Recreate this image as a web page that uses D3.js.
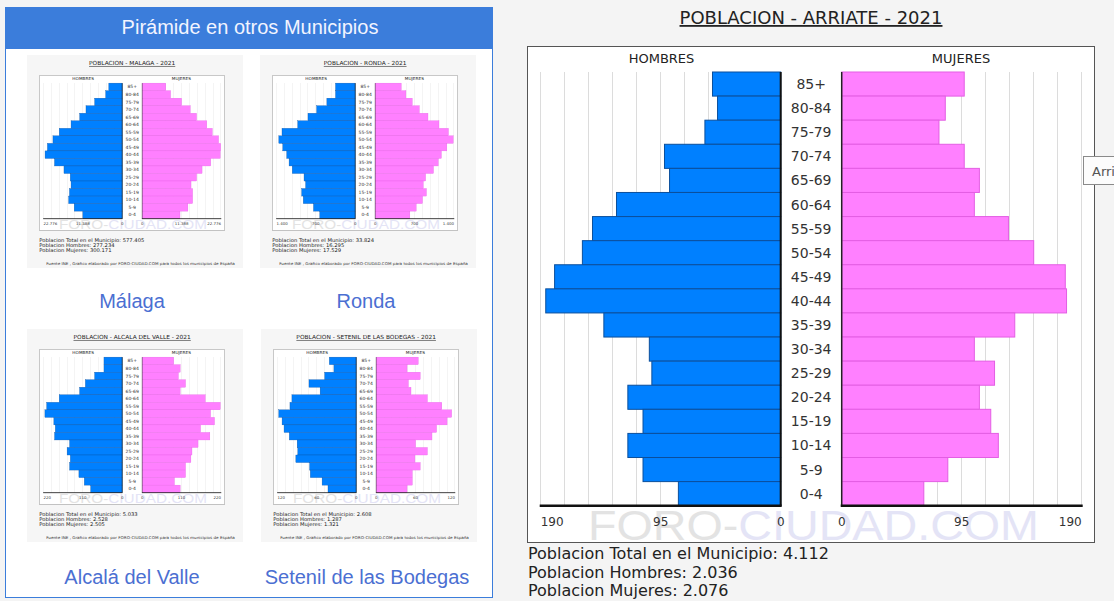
<!DOCTYPE html>
<html>
<head>
<meta charset="utf-8">
<script src="https://cdn.jsdelivr.net/npm/d3@7"></script>
<style>
  body { margin: 0; background: #f4f4f4; }
  svg { display: block; }
</style>
</head>
<body>
<svg id="page" width="1114" height="601"></svg>
<script>
// age groups, top of the pyramid first
const ages = ['85+', '80-84', '75-79', '70-74', '65-69', '60-64', '55-59', '50-54', '45-49',
  '40-44', '35-39', '30-34', '25-29', '20-24', '15-19', '10-14', '5-9', '0-4']

// Arriate 2021
const arriateHombres = [54, 50, 60, 92, 88, 130, 149, 157, 179, 186, 140, 104, 102, 121, 109, 121, 109, 81]
const arriateMujeres = [97, 82, 77, 97, 109, 105, 132, 152, 177, 178, 137, 105, 121, 109, 118, 124, 84, 65]
const arriateTotals = [4112, 2036, 2076]
const arriateMax = 190

// thumbnails
const malagaHombres = [3870, 4780, 7970, 10480, 12300, 14800, 18220, 20040, 21640, 22320, 19590, 16850, 15030, 14800, 15260, 15490, 13890, 11390]
const malagaMujeres = [6830, 8200, 11390, 13890, 15720, 18680, 20270, 22090, 22700, 22550, 19820, 17310, 15720, 14120, 14580, 14580, 13210, 10930]
const malagaTotals = [577405, 277234, 300171]
const malagaMax = 22776

const rondaHombres = [350, 350, 504, 686, 840, 1022, 1302, 1358, 1288, 1218, 1176, 1120, 910, 882, 952, 924, 742, 630]
const rondaMujeres = [462, 546, 658, 784, 938, 1134, 1302, 1386, 1274, 1176, 1120, 1036, 896, 854, 910, 840, 728, 616]
const rondaTotals = [33824, 16295, 17529]
const rondaMax = 1400

const alcalaHombres = [51, 51, 77, 103, 119, 176, 211, 216, 191, 187, 189, 147, 154, 145, 147, 121, 106, 88]
const alcalaMujeres = [88, 106, 101, 121, 106, 176, 218, 191, 202, 163, 189, 156, 139, 136, 121, 121, 90, 106]
const alcalaTotals = [5033, 2528, 2505]
const alcalaMax = 220

const setenilHombres = [41, 34, 48, 72, 55, 98, 101, 118, 113, 110, 102, 90, 89, 92, 71, 70, 52, 43]
const setenilMujeres = [64, 47, 67, 49, 53, 78, 100, 115, 108, 92, 85, 60, 78, 59, 67, 55, 55, 47]
const setenilTotals = [2608, 1287, 1321]
const setenilMax = 120

const es = d3.formatLocale({ decimal: ',', thousands: '.', grouping: [3], currency: ['', ' €'] })
const fmt = es.format(',d')

const svg = d3.select('#page')
const chartFont = "'DejaVu Sans', Verdana, sans-serif"
const panelFont = "'Liberation Sans', Arial, sans-serif"

svg.append('rect').attr('width', 1114).attr('height', 601).attr('fill', '#f4f4f4')

function drawPyramid (g, p) {
  const W = 567
  const H = 496
  const xL = d3.scaleLinear().domain([0, p.max]).range([253.7, 13.7])
  const xR = d3.scaleLinear().domain([0, p.max]).range([314.7, 554.7])
  const y = d3.scaleBand().domain(ages).range([26, 459.7])
  const grid = d3.range(1, 11).map(i => p.max * i / 10)
  const base = y.range()[1]
  const mid = (xL(0) + xR(0)) / 2

  g.append('text')
    .attr('x', 284).attr('y', p.titleY)
    .attr('text-anchor', 'middle')
    .style('font', '18px ' + chartFont)
    .style('text-decoration', 'underline')
    .attr('fill', '#222')
    .text('POBLACION - ' + p.name + ' - 2021')

  g.append('rect')
    .attr('width', W).attr('height', H)
    .attr('fill', '#fff').attr('stroke', '#555')
    .attr('shape-rendering', 'crispEdges')

  g.append('text').attr('x', 134.5).attr('y', 17)
    .attr('text-anchor', 'middle').style('font', '13px ' + chartFont).attr('fill', '#222')
    .text('HOMBRES')
  g.append('text').attr('x', 434).attr('y', 17)
    .attr('text-anchor', 'middle').style('font', '13px ' + chartFont).attr('fill', '#222')
    .text('MUJERES')

  // grid lines
  g.selectAll('.gl').data(grid).enter().append('line')
    .attr('x1', d => xL(d)).attr('x2', d => xL(d))
    .attr('y1', y.range()[0]).attr('y2', base)
    .attr('stroke', '#dcdcdc').attr('shape-rendering', 'crispEdges')
  g.selectAll('.gr').data(grid).enter().append('line')
    .attr('x1', d => xR(d)).attr('x2', d => xR(d))
    .attr('y1', y.range()[0]).attr('y2', base)
    .attr('stroke', '#dcdcdc').attr('shape-rendering', 'crispEdges')

  // bars
  g.selectAll('.bl').data(p.hombres).enter().append('rect')
    .attr('x', d => xL(d))
    .attr('y', (d, i) => y(ages[i]))
    .attr('width', d => xL(0) - xL(d))
    .attr('height', y.bandwidth())
    .attr('fill', '#0080ff').attr('stroke', '#0b4f9c')
  g.selectAll('.br').data(p.mujeres).enter().append('rect')
    .attr('x', xR(0))
    .attr('y', (d, i) => y(ages[i]))
    .attr('width', d => xR(d) - xR(0))
    .attr('height', y.bandwidth())
    .attr('fill', '#ff80ff').attr('stroke', '#e35ee3')

  // centre lines
  g.append('line').attr('x1', xL(0)).attr('x2', xL(0))
    .attr('y1', y.range()[0]).attr('y2', base)
    .attr('stroke', '#111').attr('stroke-width', 2)
  g.append('line').attr('x1', xR(0)).attr('x2', xR(0))
    .attr('y1', y.range()[0]).attr('y2', base)
    .attr('stroke', '#222').attr('stroke-width', 1.5)

  // age labels
  g.selectAll('.age').data(ages).enter().append('text')
    .attr('x', mid)
    .attr('y', d => y(d) + y.bandwidth() / 2 + 5)
    .attr('text-anchor', 'middle')
    .style('font', '14px ' + chartFont)
    .attr('fill', '#333')
    .text(d => d)

  // axis lines
  g.append('line').attr('x1', xL(p.max) - 1).attr('x2', xL(0) + 1)
    .attr('y1', base).attr('y2', base).attr('stroke', '#111').attr('stroke-width', 2.5)
  g.append('line').attr('x1', xR(0) - 1).attr('x2', xR(p.max) + 1)
    .attr('y1', base).attr('y2', base).attr('stroke', '#111').attr('stroke-width', 2.5)

  // watermark
  const wm = g.append('text')
    .attr('x', 61).attr('y', 494)
    .attr('textLength', 451).attr('lengthAdjust', 'spacingAndGlyphs')
    .style('font', '42px ' + panelFont)
  wm.append('tspan').attr('fill', '#e3e3e3').text('FORO-')
  wm.append('tspan').attr('fill', '#e4e4f6').text('CIUDAD.COM')

  // tick labels
  const ticks = [0, p.max / 2, p.max]
  const anchorL = ['middle', 'middle', 'start']
  const anchorR = ['middle', 'middle', 'end']
  g.selectAll('.tl').data(ticks).enter().append('text')
    .attr('x', d => xL(d)).attr('y', 480)
    .attr('text-anchor', (d, i) => anchorL[i])
    .style('font', '12px ' + chartFont).attr('fill', '#333')
    .text(d => fmt(d))
  g.selectAll('.tr').data(ticks).enter().append('text')
    .attr('x', d => xR(d)).attr('y', 480)
    .attr('text-anchor', (d, i) => anchorR[i])
    .style('font', '12px ' + chartFont).attr('fill', '#333')
    .text(d => fmt(d))

  // totals
  const info = ['Poblacion Total en el Municipio: ', 'Poblacion Hombres: ', 'Poblacion Mujeres: ']
  g.selectAll('.info').data(info).enter().append('text')
    .attr('x', 1)
    .attr('y', (d, i) => p.infoY + i * p.infoStep)
    .style('font', '16px ' + chartFont).attr('fill', '#222')
    .text((d, i) => d + fmt(p.totals[i]))

  if (p.source) {
    g.append('text')
      .attr('x', 22).attr('y', p.infoY + 2 * p.infoStep + 40)
      .style('font', '12.5px ' + chartFont).attr('fill', '#333')
      .text('Fuente INE , Grafico elaborado por FORO-CIUDAD.COM para todos los municipios de España')
  }
}

// ---- left panel ----
svg.append('rect').attr('x', 5.5).attr('y', 7.5).attr('width', 487).attr('height', 590)
  .attr('fill', '#fff').attr('stroke', '#3b7ddb')
svg.append('rect').attr('x', 5).attr('y', 7).attr('width', 488).attr('height', 42)
  .attr('fill', '#3b7ddb')
svg.append('text').attr('x', 250).attr('y', 34)
  .attr('text-anchor', 'middle')
  .style('font', '20px ' + panelFont).attr('fill', '#f2f4ff')
  .text('Pirámide en otros Municipios')

const thumbs = [
  { name: 'MALAGA', label: 'Málaga', hombres: malagaHombres, mujeres: malagaMujeres, totals: malagaTotals, max: malagaMax, tx: 39, ty: 75, cx: 132, cy: 308 },
  { name: 'RONDA', label: 'Ronda', hombres: rondaHombres, mujeres: rondaMujeres, totals: rondaTotals, max: rondaMax, tx: 272, ty: 75, cx: 366, cy: 308 },
  { name: 'ALCALA DEL VALLE', label: 'Alcalá del Valle', hombres: alcalaHombres, mujeres: alcalaMujeres, totals: alcalaTotals, max: alcalaMax, tx: 39, ty: 349, cx: 132, cy: 584 },
  { name: 'SETENIL DE LAS BODEGAS', label: 'Setenil de las Bodegas', hombres: setenilHombres, mujeres: setenilMujeres, totals: setenilTotals, max: setenilMax, tx: 273, ty: 349, cx: 367, cy: 584 }
]

thumbs.forEach(t => {
  svg.append('rect').attr('x', t.tx - 12).attr('y', t.ty - 20)
    .attr('width', 216).attr('height', 213).attr('fill', '#f6f6f6')
  const g = svg.append('g')
    .attr('transform', 'translate(' + t.tx + ',' + t.ty + ') scale(0.328,0.3125)')
  drawPyramid(g, {
    name: t.name, hombres: t.hombres, mujeres: t.mujeres, totals: t.totals, max: t.max,
    titleY: -32, infoY: 535, infoStep: 16, source: true
  })
  svg.append('text').attr('x', t.cx).attr('y', t.cy)
    .attr('text-anchor', 'middle')
    .style('font', '20px ' + panelFont).attr('fill', '#4b6fd2')
    .text(t.label)
})

// ---- main chart ----
const main = svg.append('g').attr('transform', 'translate(527,46)')
drawPyramid(main, {
  name: 'ARRIATE', hombres: arriateHombres, mujeres: arriateMujeres, totals: arriateTotals,
  max: arriateMax, titleY: -22, infoY: 513, infoStep: 18.5, source: false
})

// tooltip left over from the page
svg.append('rect').attr('x', 1083.5).attr('y', 156.5).attr('width', 40).attr('height', 28)
  .attr('fill', '#fcfcfc').attr('stroke', '#8a8a8a')
svg.append('text').attr('x', 1092).attr('y', 176)
  .style('font', '13px ' + chartFont).attr('fill', '#555')
  .text('Arriate')
</script>
</body>
</html>
